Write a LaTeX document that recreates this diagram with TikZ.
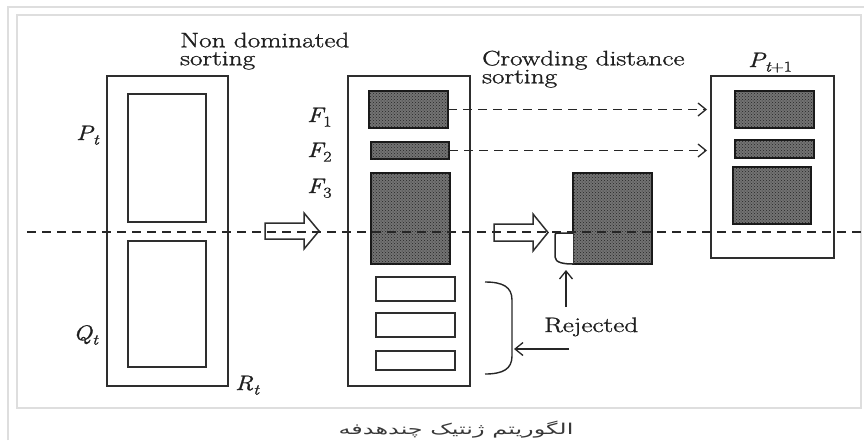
\documentclass[tikz,border=0pt]{standalone}
\usepackage{fontspec}
\usepackage{graphicx}
\usetikzlibrary{arrows.meta,patterns}
\newfontfamily\persfont[Script=Arabic]{DejaVu Sans}
\newfontfamily\medium{Latin Modern Roman}[FakeBold=1.1]
\TeXXeTstate=1
% widened, slightly heavier lettering
\newcommand{\wtxt}[1]{\scalebox{1.3}[1]{\medium #1}}
% italic symbol with a lowered italic index
\newcommand{\sym}[2]{\scalebox{1.2}[1]{\medium\itshape #1\raisebox{-0.22em}{\fontsize{15}{15}\selectfont #2}}}

\begin{document}
\begin{tikzpicture}[x=1pt,y=-1pt,
  frameline/.style={draw=black!13, line width=1.3pt},
  popbox/.style={draw=black!82, line width=1.7pt, fill=white, inner sep=0pt, outer sep=0pt},
  frontbox/.style={draw=black!90, line width=1.7pt, fill=black!55,
    postaction={pattern=crosshatch dots, pattern color=black!85},
    inner sep=0pt, outer sep=0pt},
  txt/.style={font=\fontsize{21}{21}\selectfont, inner sep=0pt, anchor=base west, text=black!88},
  head/.style={font=\fontsize{21}{18}\selectfont, inner sep=0pt, anchor=north west,
    align=left, text=black!88},
  hollowarrow/.style={draw=black!82, line width=1.5pt, fill=white, line join=miter},
  flow/.style={draw=black!85, line width=1.3pt, dash pattern=on 9pt off 6pt,
    -{Straight Barb[length=8pt,width=13pt]}},
  plain/.style={draw=black!85, line width=1.3pt, -{Straight Barb[length=8pt,width=13pt]}},
  cut/.style={draw=black!85, line width=1.3pt, dash pattern=on 9pt off 6pt}
]
\useasboundingbox (0,0) rectangle (864,440);

% page frame
\draw[frameline] (8,440) -- (8,7) -- (864,7);
\draw[frameline] (17,15) rectangle (861,408);

% combined population R_t = P_t + Q_t
\node[popbox, minimum width=121pt, minimum height=310pt] (Rt) at (167.5,231) {};
\node[popbox, minimum width=78pt, minimum height=128pt] (Pt) at (167,158) {};
\node[popbox, minimum width=78pt, minimum height=126pt] (Qt) at (167,304) {};
\node[txt] (lPt) at (76,140) {\sym{P}{t}};
\node[txt] (lQt) at (73,340) {\sym{Q}{t}};
\node[txt] (lRt) at (235,390) {\sym{R}{t}};
\node[head] (nds) at (180,32.5) {\wtxt{Non dominated}\\\wtxt{sorting}};

% fronts after non-dominated sorting
\node[popbox, minimum width=122pt, minimum height=310pt] (Fb) at (409,231) {};
\node[frontbox, minimum width=79pt, minimum height=37pt] (F1) at (408.5,109.5) {};
\node[frontbox, minimum width=78pt, minimum height=17pt] (F2) at (410,150.5) {};
\node[frontbox, minimum width=79pt, minimum height=91pt] (F3) at (410.5,218.5) {};
\node[popbox, minimum width=79pt, minimum height=24pt] (W1) at (415.5,289) {};
\node[popbox, minimum width=79pt, minimum height=24pt] (W2) at (415.5,325) {};
\node[popbox, minimum width=79pt, minimum height=19pt] (W3) at (415.5,360.5) {};
\node[txt] (lF1) at (307,122) {\sym{F}{\upshape 1}};
\node[txt] (lF2) at (307,157) {\sym{F}{\upshape 2}};
\node[txt] (lF3) at (307,193) {\sym{F}{\upshape 3}};

% crowding distance sorting of the last front
\node[head] (cds) at (482,50.5) {\wtxt{Crowding distance}\\\wtxt{sorting}};
\node[frontbox, minimum width=79pt, minimum height=91pt] (Cs) at (612.5,218.5) {};
\draw[draw=black!85, line width=1.5pt, fill=white]
  (573,233) -- (559,233) .. controls (555,233) .. (555,238) -- (555,257)
  .. controls (555,263) and (565,264) .. (573,264);

% next population
\node[popbox, minimum width=123pt, minimum height=182pt] (Pn) at (772.5,167) {};
\node[frontbox, minimum width=79pt, minimum height=37pt] (N1) at (774.5,109.5) {};
\node[frontbox, minimum width=79pt, minimum height=18pt] (N2) at (774.5,149) {};
\node[frontbox, minimum width=78pt, minimum height=57pt] (N3) at (772,195.5) {};
\node[txt] (lPn) at (748,67) {\sym{P}{t\upshape +1}};

% block arrows
\draw[hollowarrow] (265,223) -- (304,223) -- (304,213) -- (319,231) -- (304,249)
  -- (304,239) -- (265,239) -- cycle;
\draw[hollowarrow] (494,224) -- (533,224) -- (533,214) -- (548,232.5) -- (533,251)
  -- (533,241) -- (494,241) -- cycle;

% fronts copied into P_{t+1}
\draw[flow, shorten >=4pt] (F1.east) -- (F1.east -| Pn.west);
\draw[flow, shorten >=4pt] (F2.east) -- (F2.east -| Pn.west);

% rejected members
\node[txt] (rej) at (544,332) {\wtxt{Rejected}};
\coordinate (rejtip) at (566,270);
\coordinate (rejfoot) at (569,349);
\coordinate (bracetip) at (514,349);
\draw[plain] (rejtip |- 0,307) -- (rejtip);
\draw[plain] (rejfoot) -- (bracetip);
\draw[draw=black!85, line width=1.4pt]
  (485,282) .. controls (503,282) and (512,287) .. (512,300) -- (512,356)
  .. controls (512,369) and (503,374) .. (485,374);

% cut line of the population size
\draw[cut] (27,232) -- (864,232);

% caption
\node[font=\fontsize{15}{15}\selectfont, text=black!78, inner sep=0pt] (cap) at (456,430)
  {\scalebox{1.6}[1]{\persfont\beginR الگوریتم ژنتیک چندهدفه\endR}};
\end{tikzpicture}
\end{document}
